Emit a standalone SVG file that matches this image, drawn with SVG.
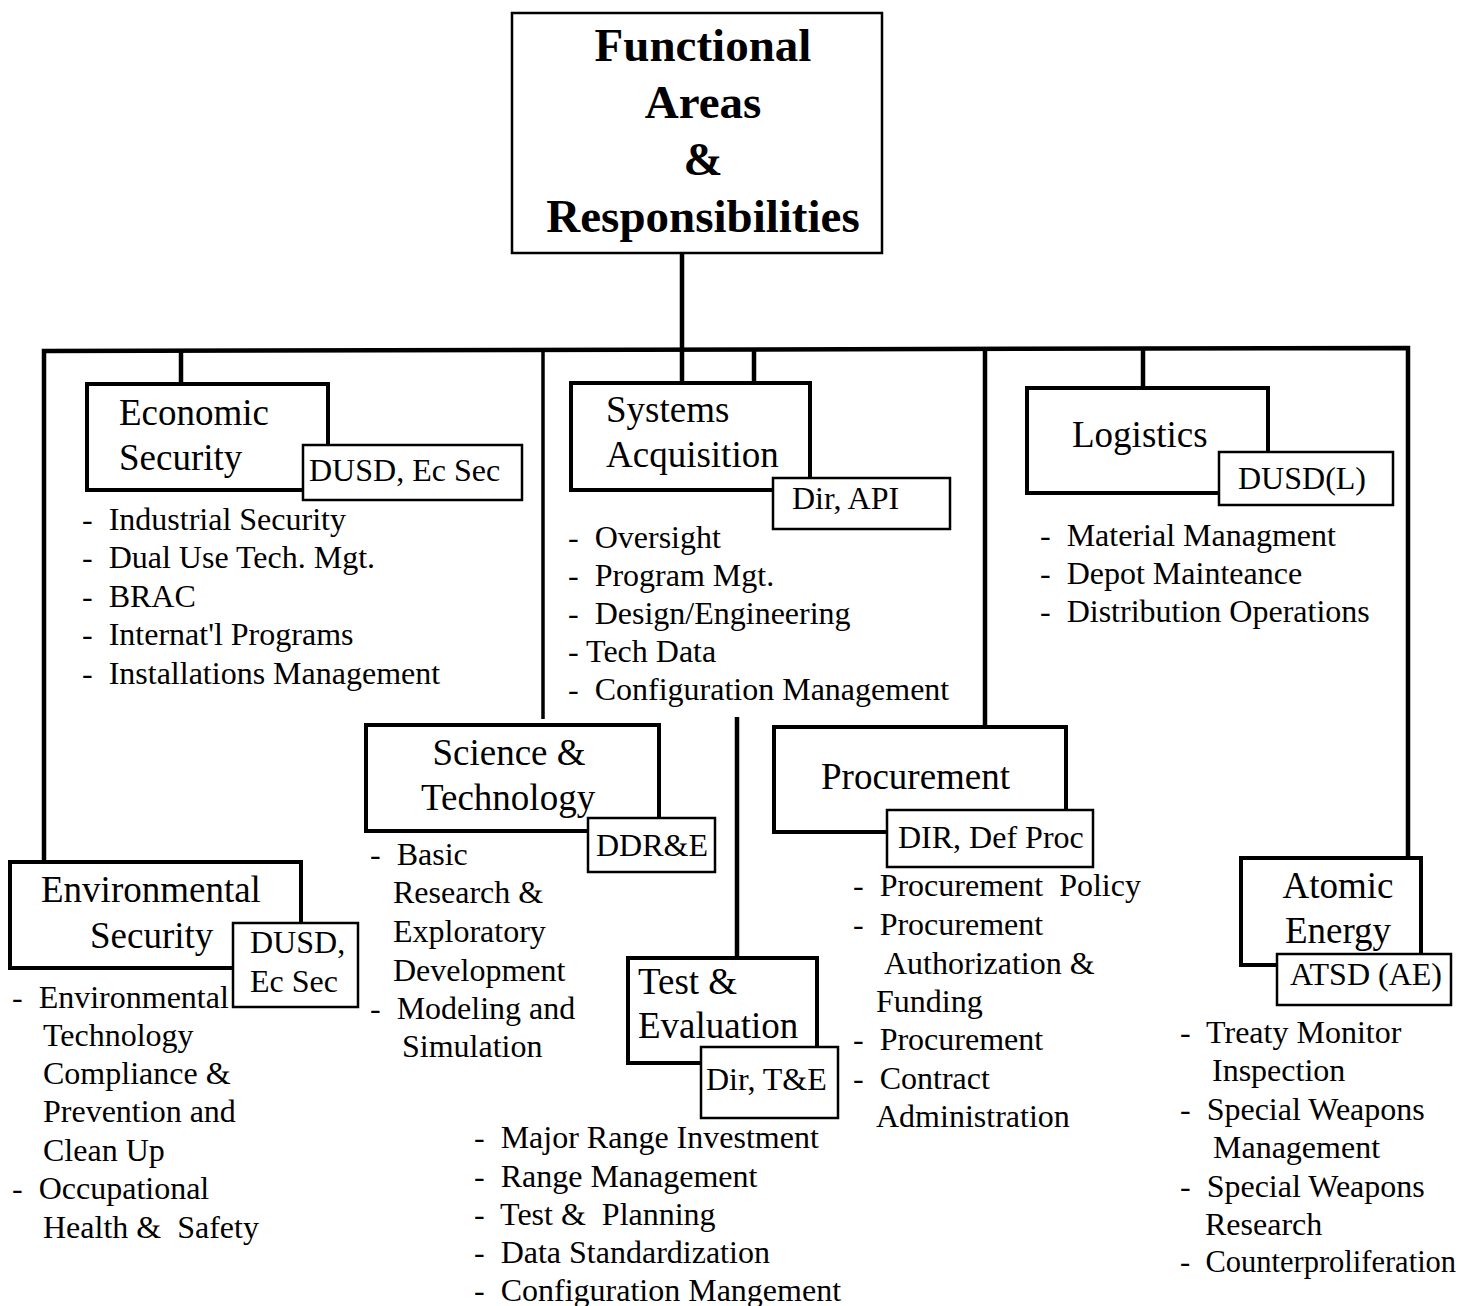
<svg xmlns="http://www.w3.org/2000/svg" width="1466" height="1306" viewBox="0 0 1466 1306">
<style>
text{font-family:"Liberation Serif","Times New Roman",serif;fill:#000;white-space:pre}
.ttl{font-size:47px;font-weight:bold;text-anchor:middle}
.hd{font-size:37px}
.sb{font-size:32px}
.it{font-size:32px}
.main{fill:#fff;stroke:#000;stroke-width:4}
.sub{fill:#fff;stroke:#000;stroke-width:2.5}
.top{fill:#fff;stroke:#000;stroke-width:2.5}
.ln{stroke:#000;stroke-width:4.5;fill:none}
.thin{stroke:#000;stroke-width:3.5;fill:none}
</style>
<rect width="1466" height="1306" fill="#fff"/>
<g id="connectors">
<line class="ln" x1="682" y1="253" x2="682" y2="383"/>
<polyline class="ln" points="44,862 44,351 1408,348 1408,858"/>
<line class="ln" x1="181" y1="351" x2="181" y2="384"/>
<line class="thin" x1="543" y1="351" x2="543" y2="719"/>
<line class="ln" x1="754" y1="350" x2="754" y2="383"/>
<line class="ln" x1="985" y1="349" x2="985" y2="727"/>
<line class="ln" x1="1143" y1="349" x2="1143" y2="388"/>
<line class="ln" x1="737" y1="717" x2="737" y2="958"/>
</g>
<g id="top">
<rect class="top" x="512" y="13" width="370" height="240"/>
<text class="ttl" x="703" y="61">Functional</text>
<text class="ttl" x="703" y="118">Areas</text>
<text class="ttl" x="703" y="175">&amp;</text>
<text class="ttl" x="703" y="232">Responsibilities</text>
</g>
<g id="economic">
<rect class="main" x="87" y="384" width="241" height="106"/>
<text class="hd" x="119" y="425">Economic</text>
<text class="hd" x="119" y="470">Security</text>
<rect class="sub" x="303" y="445" width="219" height="55"/>
<text class="sb" x="309" y="481">DUSD, Ec Sec</text>
<text class="it" x="82" y="530">-  Industrial Security</text>
<text class="it" x="82" y="568">-  Dual Use Tech. Mgt.</text>
<text class="it" x="82" y="607">-  BRAC</text>
<text class="it" x="82" y="645">-  Internat'l Programs</text>
<text class="it" x="82" y="684">-  Installations Management</text>
</g>
<g id="systems">
<rect class="main" x="571" y="383" width="239" height="107"/>
<text class="hd" x="606" y="422">Systems</text>
<text class="hd" x="606" y="467">Acquisition</text>
<rect class="sub" x="773" y="478" width="177" height="51"/>
<text class="sb" x="792" y="509">Dir, API</text>
<text class="it" x="568" y="548">-  Oversight</text>
<text class="it" x="568" y="586">-  Program Mgt.</text>
<text class="it" x="568" y="624">-  Design/Engineering</text>
<text class="it" x="568" y="662">- Tech Data</text>
<text class="it" x="568" y="700">-  Configuration Management</text>
</g>
<g id="logistics">
<rect class="main" x="1027" y="388" width="241" height="105"/>
<text class="hd" x="1072" y="447">Logistics</text>
<rect class="sub" x="1219" y="452" width="174" height="53"/>
<text class="sb" x="1238" y="489">DUSD(L)</text>
<text class="it" x="1040" y="546">-  Material Managment</text>
<text class="it" x="1040" y="584">-  Depot Mainteance</text>
<text class="it" x="1040" y="622">-  Distribution Operations</text>
</g>
<g id="science">
<rect class="main" x="366" y="725" width="293" height="106"/>
<text class="hd" x="509" y="765" text-anchor="middle">Science &amp;</text>
<text class="hd" x="421" y="810">Technology</text>
<rect class="sub" x="588" y="818" width="127" height="54"/>
<text class="sb" x="596" y="856">DDR&amp;E</text>
<text class="it" x="370" y="865">-  Basic</text>
<text class="it" x="393" y="903">Research &amp;</text>
<text class="it" x="393" y="942">Exploratory</text>
<text class="it" x="393" y="981">Development</text>
<text class="it" x="370" y="1019">-  Modeling and</text>
<text class="it" x="402" y="1057">Simulation</text>
</g>
<g id="procurement">
<rect class="main" x="774" y="727" width="292" height="105"/>
<text class="hd" x="821" y="789">Procurement</text>
<rect class="sub" x="887" y="810" width="206" height="57"/>
<text class="sb" x="898" y="848">DIR, Def Proc</text>
<text class="it" x="853" y="896">-  Procurement  Policy</text>
<text class="it" x="853" y="935">-  Procurement</text>
<text class="it" x="884" y="974">Authorization &amp;</text>
<text class="it" x="876" y="1012">Funding</text>
<text class="it" x="853" y="1050">-  Procurement</text>
<text class="it" x="853" y="1089">-  Contract</text>
<text class="it" x="876" y="1127">Administration</text>
</g>
<g id="environmental">
<rect class="main" x="10" y="862" width="291" height="106"/>
<text class="hd" x="41" y="902">Environmental</text>
<text class="hd" x="90" y="948">Security</text>
<rect class="sub" x="233" y="923" width="125" height="84"/>
<text class="sb" x="250" y="953">DUSD,</text>
<text class="sb" x="250" y="992">Ec Sec</text>
<text class="it" x="12" y="1008">-  Environmental</text>
<text class="it" x="43" y="1046">Technology</text>
<text class="it" x="43" y="1084">Compliance &amp;</text>
<text class="it" x="43" y="1122">Prevention and</text>
<text class="it" x="43" y="1161">Clean Up</text>
<text class="it" x="12" y="1199">-  Occupational</text>
<text class="it" x="43" y="1238">Health &amp;  Safety</text>
</g>
<g id="atomic">
<rect class="main" x="1241" y="858" width="180" height="107"/>
<text class="hd" x="1338" y="898" text-anchor="middle">Atomic</text>
<text class="hd" x="1338" y="943" text-anchor="middle">Energy</text>
<rect class="sub" x="1277" y="954" width="174" height="51"/>
<text class="sb" x="1290" y="985">ATSD (AE)</text>
<text class="it" x="1180" y="1043">-  Treaty Monitor</text>
<text class="it" x="1212" y="1081">Inspection</text>
<text class="it" x="1180" y="1120">-  Special Weapons</text>
<text class="it" x="1213" y="1158">Management</text>
<text class="it" x="1180" y="1197">-  Special Weapons</text>
<text class="it" x="1205" y="1235">Research</text>
<text class="it" x="1180" y="1272" style="font-size:30.5px">-  Counterproliferation</text>
</g>
<g id="test">
<rect class="main" x="628" y="958" width="189" height="105"/>
<text class="hd" x="638" y="994">Test &amp;</text>
<text class="hd" x="638" y="1038">Evaluation</text>
<rect class="sub" x="701" y="1047" width="137" height="71"/>
<text class="sb" x="706" y="1090">Dir, T&amp;E</text>
<text class="it" x="474" y="1148">-  Major Range Investment</text>
<text class="it" x="474" y="1187">-  Range Management</text>
<text class="it" x="474" y="1225">-  Test &amp;  Planning</text>
<text class="it" x="474" y="1263">-  Data Standardization</text>
<text class="it" x="474" y="1301">-  Configuration Mangement</text>
</g>
</svg>
